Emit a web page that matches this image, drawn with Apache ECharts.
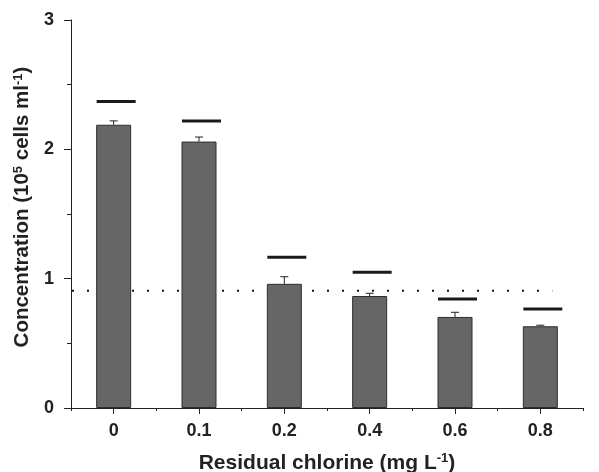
<!DOCTYPE html>
<html><head><meta charset="utf-8">
<script src="https://cdn.jsdelivr.net/npm/echarts@6/dist/echarts.min.js"></script>
<style>html,body{margin:0;padding:0;background:#fff}#c{width:599px;height:472px}</style>
</head><body><div id="c"></div>
<script>
var categories = ['0', '0.1', '0.2', '0.4', '0.6', '0.8'];
var concentration = [2.19, 2.06, 0.96, 0.866, 0.704, 0.632];
var errorTop = [2.22, 2.095, 1.015, 0.887, 0.74, 0.64];
var referenceLevel = [2.37, 2.22, 1.165, 1.05, 0.843, 0.765];
var thresholdValue = 0.907;
var yTicks = [0, 1, 2, 3];

var FONT = '"Liberation Sans", Arial, sans-serif';
var chart = echarts.init(document.getElementById('c'), null, {renderer: 'canvas'});

function titleRich(size) {
  return {
    a: {fontFamily: FONT, fontWeight: 'bold', fontSize: size, color: '#222'},
    s: {fontFamily: FONT, fontWeight: 'bold', fontSize: Math.round(size * 0.62), color: '#222', padding: [0, 0, Math.round(size * 0.45), 0]}
  };
}

var option = {
  animation: false,
  backgroundColor: '#fff',
  grid: {left: 71, right: 16, top: 20, bottom: 64, containLabel: false, outerBoundsMode: 'none'},
  xAxis: [{
    type: 'category', data: categories, position: 'bottom',
    axisLine: {lineStyle: {color: '#222', width: 1}},
    axisTick: {show: true, alignWithLabel: false, length: 3, lineStyle: {color: '#222'}},
    axisLabel: {show: false},
    splitLine: {show: false}
  }, {
    type: 'category', data: categories, position: 'bottom', offset: 0,
    axisLine: {show: false},
    axisTick: {show: true, alignWithLabel: true, length: 6, lineStyle: {color: '#222'}},
    axisLabel: {show: true, margin: 14, fontFamily: FONT, fontWeight: 'bold', fontSize: 18, color: '#222'},
    name: '{a|Residual chlorine (mg L}{s|-1}{a|)}',
    nameLocation: 'middle', nameGap: 44,
    nameTextStyle: {rich: titleRich(21)},
    splitLine: {show: false}
  }],
  yAxis: {
    type: 'value', min: 0, max: 3, interval: 1,
    axisLine: {show: true, lineStyle: {color: '#222', width: 1}},
    axisTick: {show: true, length: 7, lineStyle: {color: '#222'}},
    minorTick: {show: true, splitNumber: 2, length: 4, lineStyle: {color: '#222'}},
    axisLabel: {margin: 17, fontFamily: FONT, fontWeight: 'bold', fontSize: 18, color: '#222',
      formatter: function (v) { return yTicks.indexOf(v) >= 0 ? String(v) : ''; }},
    splitLine: {show: false},
    name: '{a|Concentration (10}{s|5}{a| cells ml}{s|-1}{a|)}',
    nameLocation: 'middle', nameGap: 33, nameRotate: 90,
    nameTextStyle: {rich: titleRich(20.5), padding: [0, 0, 0, 14]}
  },
  series: [{
    type: 'bar', xAxisIndex: 0, data: concentration, barWidth: 35,
    itemStyle: {color: '#666666', borderColor: '#2e2e2e', borderWidth: 1},
    z: 2
  }, {
    type: 'custom', xAxisIndex: 0,
    data: categories.map(function (c, i) { return [i, concentration[i], errorTop[i]]; }),
    renderItem: function (params, api) {
      var b = api.coord([api.value(0), api.value(1)]);
      var t = api.coord([api.value(0), api.value(2)]);
      return {type: 'group', children: [
        {type: 'line', shape: {x1: b[0], y1: b[1], x2: t[0], y2: t[1]}, style: {stroke: '#222', lineWidth: 1}},
        {type: 'line', shape: {x1: t[0] - 4, y1: t[1], x2: t[0] + 4, y2: t[1]}, style: {stroke: '#222', lineWidth: 1}}
      ]};
    }, z: 3
  }, {
    type: 'custom', xAxisIndex: 0,
    data: categories.map(function (c, i) { return [i, referenceLevel[i]]; }),
    renderItem: function (params, api) {
      var p = api.coord([api.value(0), api.value(1)]);
      return {type: 'line', shape: {x1: p[0] - 17, y1: p[1], x2: p[0] + 22, y2: p[1]},
        style: {stroke: '#1a1a1a', lineWidth: 3}};
    }, z: 3
  }, {
    type: 'custom', xAxisIndex: 0,
    data: [[0, thresholdValue]],
    renderItem: function (params, api) {
      var p = api.coord([0, api.value(1)]);
      var cs = params.coordSys;
      return {type: 'line', shape: {x1: cs.x + 1, y1: p[1], x2: cs.x + cs.width * 0.94, y2: p[1]},
        style: {stroke: '#111', lineWidth: 2, lineDash: [2, 13]}};
    }, z: 1
  }]
};
chart.setOption(option);
</script>
</body></html>
